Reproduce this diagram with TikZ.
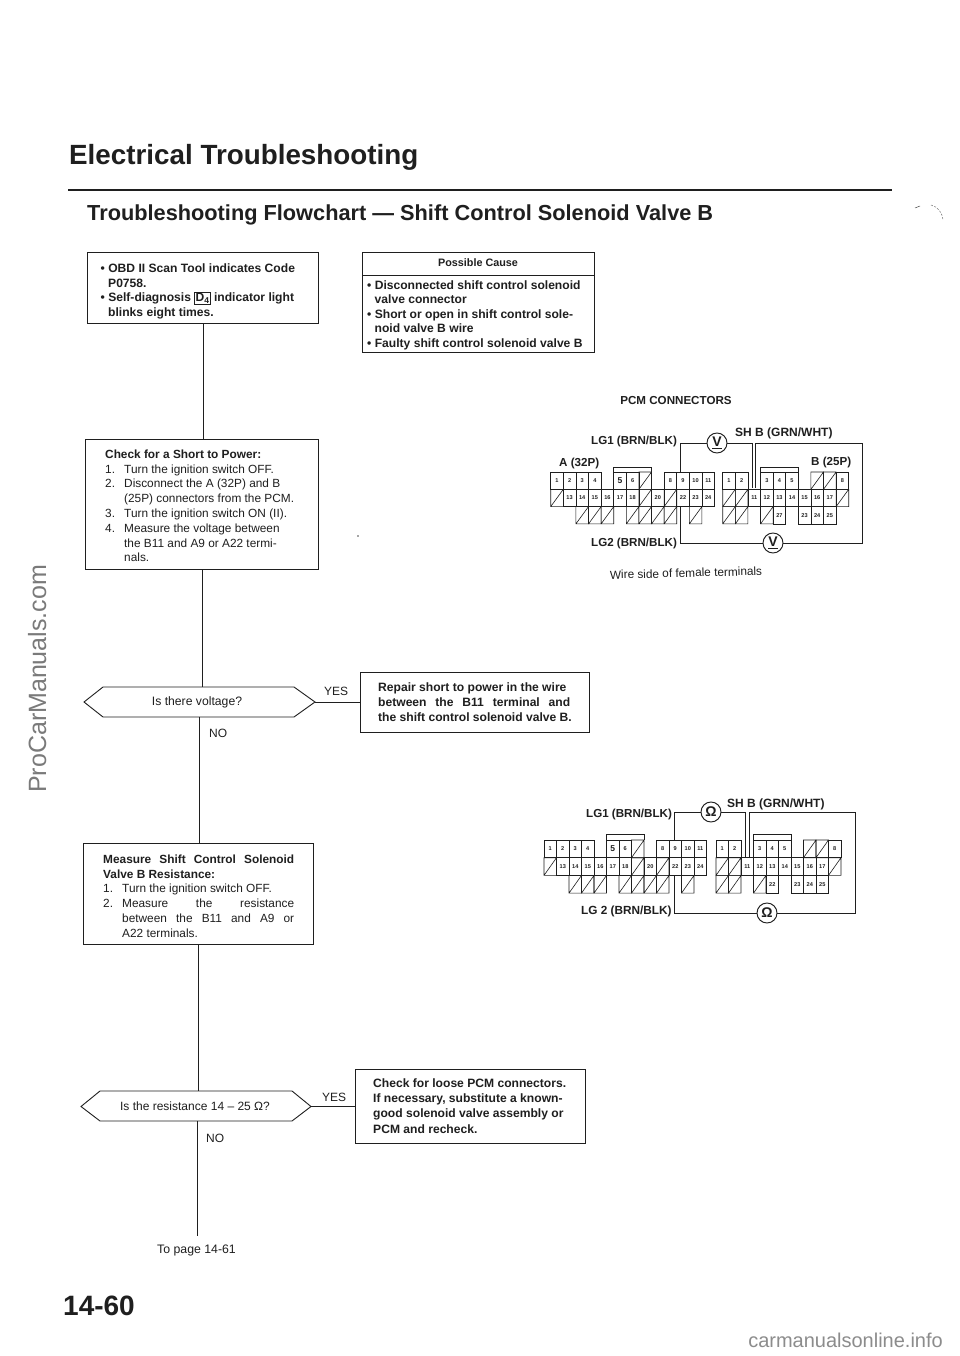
\documentclass[tikz,border=0pt]{standalone}
\usepackage{fontspec}
\setmainfont{Liberation Sans}
\usetikzlibrary{calc}
\newcommand{\fsz}[2]{\fontsize{#1}{#2}\selectfont}
\newcommand{\fit}[2]{\makebox[#1][s]{#2}}
\newcommand{\itm}[1]{\makebox[19pt][l]{#1}}
\colorlet{inkc}{black!88}
\tikzset{
 ink/.style={line width=0.9pt,draw=inkc},
 wire/.style={line width=0.95pt,draw=inkc},
 flowbox/.style={ink,text=inkc,anchor=north west,align=left,inner ysep=0pt},
 boldtext/.style={font=\bfseries\fsz{12.1}{14.4}},
 regtext/.style={font=\fsz{11.85}{14.8}},
 plain/.style={inner sep=0pt,text=inkc,font=\fsz{12}{13}},
 boxtext/.style={inner sep=0pt,text=inkc,anchor=north west,align=left},
 wirelabel/.style={inner sep=0pt,text=inkc,anchor=base west,font=\bfseries\fsz{11.6}{13}},
 meter/.style={circle,wire,fill=white,text=inkc,inner sep=0pt,minimum size=20pt,font=\bfseries\fsz{14}{14}},
 cell/.style={line width=0.6pt,draw=inkc},
 pin/.style={inner sep=0pt,text=inkc,font=\bfseries\fsz{5.6}{6}},
 watermark/.style={inner sep=0pt,text=black!52,font=\fsz{25}{26}},
}
% #1 x A, #2 y, #3 x B, #4 cell width, #5 row height, #6 B row-3 label
\newcommand{\pcmconn}[6]{%
 \begin{scope}[shift={(#1,#2)},x=#4pt,y=-#5pt]
  \foreach \c/\r/\t in {0/0/1,1/0/2,2/0/3,3/0/4,5/0/{\fsz{8.5}{9}5},6/0/6,9/0/8,10/0/9,11/0/10,12/0/11,
    1/1/13,2/1/14,3/1/15,4/1/16,5/1/17,6/1/18,8/1/20,10/1/22,11/1/23,12/1/24}{
    \draw[cell] (\c,\r) rectangle (\c+1,\r+1);
    \node[pin] at (\c+.5,\r+.5) {\t};
  }
  \foreach \c/\r in {7/0,0/1,7/1,9/1,2/2,3/2,4/2,6/2,7/2,8/2,9/2,11/2}{
    \draw[cell] (\c,\r) rectangle (\c+1,\r+1) (\c,\r+1) -- (\c+1,\r);
  }
  \draw[cell] (5,0) -- (5,-.3) -- (8,-.3) -- (8,0);
 \end{scope}
 \begin{scope}[shift={(#3,#2)},x=#4pt,y=-#5pt]
  \foreach \c/\r/\t in {0/0/1,1/0/2,3/0/3,4/0/4,5/0/5,9/0/8,
    2/1/11,3/1/12,4/1/13,5/1/14,6/1/15,7/1/16,8/1/17,
    4/2/#6,6/2/23,7/2/24,8/2/25}{
    \draw[cell] (\c,\r) rectangle (\c+1,\r+1);
    \node[pin] at (\c+.5,\r+.5) {\t};
  }
  \foreach \c/\r in {7/0,8/0,0/1,1/1,9/1,0/2,1/2,3/2}{
    \draw[cell] (\c,\r) rectangle (\c+1,\r+1) (\c,\r+1) -- (\c+1,\r);
  }
  \draw[cell] (3,0) -- (3,-.3) -- (6,-.3) -- (6,0);
 \end{scope}
}
\begin{document}
\begin{tikzpicture}[x=1pt,y=-1pt]
\useasboundingbox (0,0) rectangle (960,1356);
\fill[white] (0,0) rectangle (960,1356);

% headings
\node[anchor=base west,inner sep=0pt,text=inkc,font=\bfseries\fsz{27.8}{30}] (title) at (69,165) {Electrical Troubleshooting};
\coordinate (ruleL) at (68,190); \coordinate (ruleR) at (892,190);
\draw[line width=1.4pt,inkc] (ruleL) -- (ruleR);
\node[anchor=base west,inner sep=0pt,text=inkc,font=\bfseries\fsz{21.75}{24}] (subtitle) at (87,221) {Troubleshooting Flowchart --- Shift Control Solenoid Valve B};

% flow boxes
\node[flowbox,minimum width=231pt,minimum height=71pt] (b1) at (87,252) {};
\node[boxtext,boldtext] (b1text) at (100.5,264) {\textbullet\ OBD II Scan Tool indicates Code\\\hspace*{7.5pt}P0758.\\\textbullet\ Self-diagnosis {\setlength{\fboxsep}{0.8pt}\fbox{D\textsubscript{4}}} indicator light\\\hspace*{7.5pt}blinks eight times.};

\node[flowbox,minimum width=232pt,minimum height=100pt] (b2) at (362,252) {};
\node[plain,font=\bfseries\fsz{10.8}{13}] (b2head) at (478,263) {Possible Cause};
\coordinate (b2sep) at (362,275);
\draw[ink] (b2sep) -- (b2sep -| b2.east);
\node[boxtext,boldtext] (b2text) at (367,280.5) {\textbullet\ Disconnected shift control solenoid\\\hspace*{7.5pt}valve connector\\\textbullet\ Short or open in shift control sole-\\\hspace*{7.5pt}noid valve B wire\\\textbullet\ Faulty shift control solenoid valve B};

\node[flowbox,minimum width=233pt,minimum height=130pt] (b3) at (85,439) {};
\node[boxtext,regtext] (b3text) at (105,449.5) {\textbf{Check for a Short to Power:}\\\itm{1.}Turn the ignition switch OFF.\\\itm{2.}Disconnect the A (32P) and B\\\itm{}(25P) connectors from the PCM.\\\itm{3.}Turn the ignition switch ON (II).\\\itm{4.}Measure the voltage between\\\itm{}the B11 and A9 or A22 termi-\\\itm{}nals.};

\node[flowbox,minimum width=230pt,minimum height=101pt] (b4) at (83,843) {};
\node[boxtext,regtext] (b4text) at (103,854.5) {\textbf{\fit{191pt}{Measure\hfill Shift\hfill Control\hfill Solenoid}}\\\textbf{Valve B Resistance:}\\\itm{1.}Turn the ignition switch OFF.\\\itm{2.}\fit{172pt}{Measure\hfill the\hfill resistance}\\\itm{}\fit{172pt}{between\hfill the\hfill B11\hfill and\hfill A9\hfill or}\\\itm{}A22 terminals.};

\node[flowbox,minimum width=229pt,minimum height=60pt] (b5) at (360,672) {};
\node[boxtext,font=\bfseries\fsz{12.1}{15.2}] (b5text) at (378,682.5) {Repair short to power in the wire\\\fit{192pt}{between\hfill the\hfill B11\hfill terminal\hfill and}\\the shift control solenoid valve B.};

\node[flowbox,minimum width=230pt,minimum height=74pt] (b6) at (355,1069) {};
\node[boxtext,font=\bfseries\fsz{12.1}{15.2}] (b6text) at (373,1078.5) {Check for loose PCM connectors.\\If necessary, substitute a known-\\good solenoid valve assembly or\\PCM and recheck.};

% decisions
\node[plain,font=\fsz{12.2}{13}] (hA) at (197,702) {Is there voltage?};
\coordinate (hAb) at (199,717);
\coordinate (hAl) at (84,702); \coordinate (hAr) at (315,702);
\draw[ink,line join=miter] (hAl) -- (103,687) -- (294,687) -- (hAr) -- (294,717) -- (103,717) -- cycle;
\coordinate (hAt) at (201,687);

\node[plain] (hB) at (195,1106.5) {Is the resistance 14 -- 25 Ω?};
\coordinate (hBt) at (198,1091); \coordinate (hBb) at (197,1121);
\coordinate (hBl) at (81,1106.5); \coordinate (hBr) at (311,1106.5);
\draw[ink,line join=miter] (hBl) -- (100,1091) -- (292,1091) -- (hBr) -- (292,1121) -- (100,1121) -- cycle;

\node[plain,anchor=base west] (yesA) at (324,695) {YES};
\node[plain,anchor=base west] (noA) at (209,737) {NO};
\node[plain,anchor=base west] (yesB) at (322,1101) {YES};
\node[plain,anchor=base west] (noB) at (206,1142) {NO};
\node[plain,anchor=base west,font=\fsz{12.3}{13}] (topage) at (157,1253) {To page 14-61};
\coordinate (endline) at (197,1236);

% flow connectors
\draw[ink] (b1.south) -- (b1.south |- b3.north);
\draw[ink] (b3.south) -- (b3.south |- hAt);
\draw[ink] (hAb) -- (hAb |- b4.north);
\draw[ink] (hAr) -- (hAr -| b5.west);
\draw[ink] (b4.south) -- (b4.south |- hBt);
\draw[ink] (hBb) -- (endline);
\draw[ink] (hBr) -- (hBr -| b6.west);

% upper connector
\node[plain,anchor=center,font=\bfseries\fsz{11.6}{13}] (pcm) at (676,401) {PCM CONNECTORS};
\pcmconn{550.7}{472}{722.7}{12.6}{17.3}{27}
\node[wirelabel] (lg1a) at (591,444) {LG1 (BRN/BLK)};
\node[wirelabel,font=\bfseries\fsz{12}{13}] (shba) at (735,436) {SH B (GRN/WHT)};
\node[wirelabel] (aconn) at (559,466) {A (32P)};
\node[wirelabel] (bconn) at (811,465) {B (25P)};
\node[wirelabel] (lg2a) at (591,546) {LG2 (BRN/BLK)};
\node[plain,anchor=center,rotate=1.5,font=\fsz{11.8}{13}] (wside) at (686,573) {Wire side of female terminals};
\node[meter] (v1) at (717,443) {\underline{V}};
\node[meter] (v2) at (773,543) {\underline{V}};
\coordinate (a9a) at (680.5,472); \coordinate (b11a) at (752,488);
\coordinate (b11b) at (755.7,488); \coordinate (a22a) at (680.5,507);
\coordinate (cornera) at (862,443);
\draw[wire] (a9a) |- (v1);
\draw[wire] (v1) -| (b11a);
\draw[wire] (b11b) |- (cornera) |- (v2);
\draw[wire] (v2) -| (a22a);

% lower connector
\pcmconn{544}{840}{716}{12.5}{17.7}{22}
\node[wirelabel] (lg1b) at (586,817) {LG1 (BRN/BLK)};
\node[wirelabel,font=\bfseries\fsz{12}{13}] (shbb) at (727,807) {SH B (GRN/WHT)};
\node[wirelabel,font=\bfseries\fsz{11.8}{13}] (lg2b) at (581,914) {LG 2 (BRN/BLK)};
\node[meter] (o1) at (711,812) {Ω};
\node[meter] (o2) at (767,913) {Ω};
\coordinate (a9b) at (674,840); \coordinate (b11c) at (745.7,858);
\coordinate (b11d) at (749,858); \coordinate (a22b) at (674,875.4);
\coordinate (cornerb) at (855.7,812);
\draw[wire] (a9b) |- (o1);
\draw[wire] (o1) -| (b11c);
\draw[wire] (b11d) |- (cornerb) |- (o2);
\draw[wire] (o2) -| (a22b);

% page number and stray scan marks
\node[anchor=base west,inner sep=0pt,text=inkc,font=\bfseries\fsz{28}{30}] (pageno) at (63,1315) {14-60};
\draw[line width=0.5pt,black!70] (915,208) -- (920,206);
\draw[line width=0.5pt,black!55,dash pattern=on 2pt off 1.5pt] (931,205) .. controls (938,207) and (942,212) .. (943,220);
\fill[black!70] (358,536) circle (0.8);

% watermarks
\node[watermark,anchor=base west,rotate=90] (wm1) at (46,793) {ProCarManuals.com};
\node[watermark,anchor=base east,text=black!45,font=\fsz{20}{22}] (wm2) at (943,1347) {carmanualsonline.info};
\end{tikzpicture}
\end{document}
